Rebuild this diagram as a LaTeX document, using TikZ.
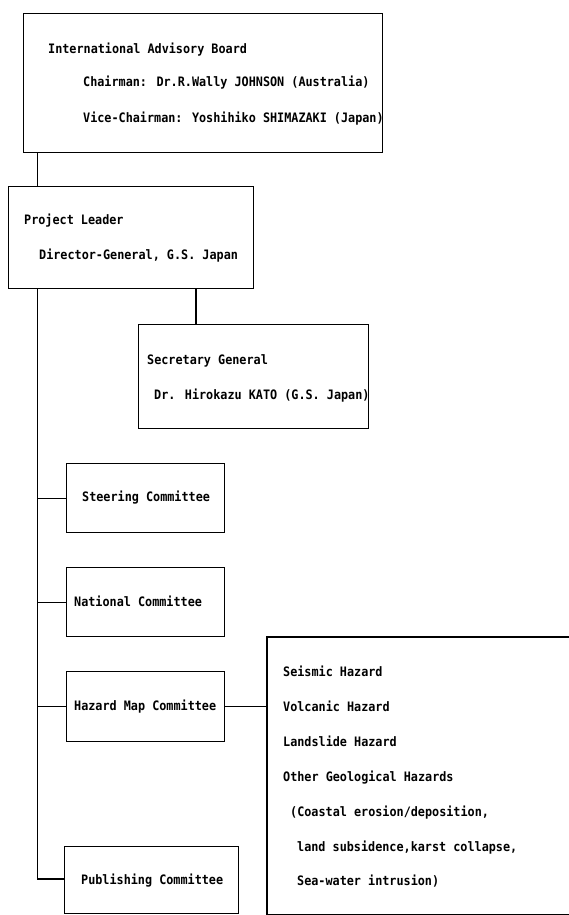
\documentclass[tikz,border=0pt]{standalone}
\usepackage{fontspec}
\newfontfamily\chartfont{DejaVu Sans Mono}[BoldFont={DejaVu Sans Mono Bold},BoldFeatures={FakeStretch=0.907}]
\begin{document}
\begin{tikzpicture}[x=1pt,y=-1pt,
  every node/.style={font=\chartfont\bfseries\fontsize{13}{15}\selectfont},
  box/.style={draw, line width=1.1pt, inner sep=0pt, anchor=north west},
  txt/.style={anchor=base west, inner sep=0pt},
  link/.style={line width=1.1pt}]
\useasboundingbox (0,0) rectangle (568,915);
% boxes
\node[box, minimum width=359pt, minimum height=139pt] (iab) at (23,13) {};
\node[box, minimum width=245pt, minimum height=102pt] (pl) at (8,186) {};
\node[box, minimum width=230pt, minimum height=104pt] (sg) at (138,324) {};
\node[box, minimum width=158pt, minimum height=69pt] (steer) at (66,463) {};
\node[box, minimum width=158pt, minimum height=69pt] (nat) at (66,567) {};
\node[box, minimum width=158pt, minimum height=70pt] (haz) at (66,671) {};
\node[box, minimum width=174pt, minimum height=67pt] (pub) at (64,846) {};
\node[box, draw=none, minimum width=305pt, minimum height=276pt] (list) at (267,637) {};
\draw[link] (list.north east) -- (list.north west) -- (list.south west) -- (list.south east);
% texts
\node[txt] (t1) at (48,53.5) {International Advisory Board};
\node[txt] (t2) at (83,86.5) {Chairman: Dr.R.Wally JOHNSON (Australia)};
\node[txt] (t3) at (83,122.5) {Vice-Chairman: Yoshihiko SHIMAZAKI (Japan)};
\node[txt] (t4) at (24,224.5) {Project Leader};
\node[txt] (t5) at (39,259.5) {Director-General, G.S. Japan};
\node[txt] (t6) at (147,364.5) {Secretary General};
\node[txt] (t7) at (154,399.5) {Dr. Hirokazu KATO (G.S. Japan)};
\node[txt] (t8) at (82,501.5) {Steering Committee};
\node[txt] (t9) at (74,606.5) {National Committee};
\node[txt] (t10) at (74,710.5) {Hazard Map Committee};
\node[txt] (t11) at (81,884.5) {Publishing Committee};
\node[txt] (l1) at (283,676.5) {Seismic Hazard};
\node[txt] (l2) at (283,711.5) {Volcanic Hazard};
\node[txt] (l3) at (283,746.5) {Landslide Hazard};
\node[txt] (l4) at (283,781.5) {Other Geological Hazards};
\node[txt] (l5) at (290,816.5) {(Coastal erosion/deposition,};
\node[txt] (l6) at (297,851.5) {land subsidence,karst collapse,};
\node[txt] (l7) at (297,885.5) {Sea-water intrusion)};
% connectors
\coordinate (tx) at (37.5,0);
\coordinate (sx) at (196,0);
\coordinate (pubj) at (37.5,879);
\draw[link] (iab.south -| tx) -- (pl.north -| tx);
\draw[link] (pl.south -| sx) -- (sg.north -| sx);
\draw[link] (pl.south -| tx) -- (pubj) -- (pub.west |- pubj);
\draw[link] (steer.west -| tx) -- (steer.west);
\draw[link] (nat.west -| tx) -- (nat.west);
\draw[link] (haz.west -| tx) -- (haz.west);
\draw[link] (haz.east) -- (haz.east -| list.west);
\end{tikzpicture}
\end{document}
